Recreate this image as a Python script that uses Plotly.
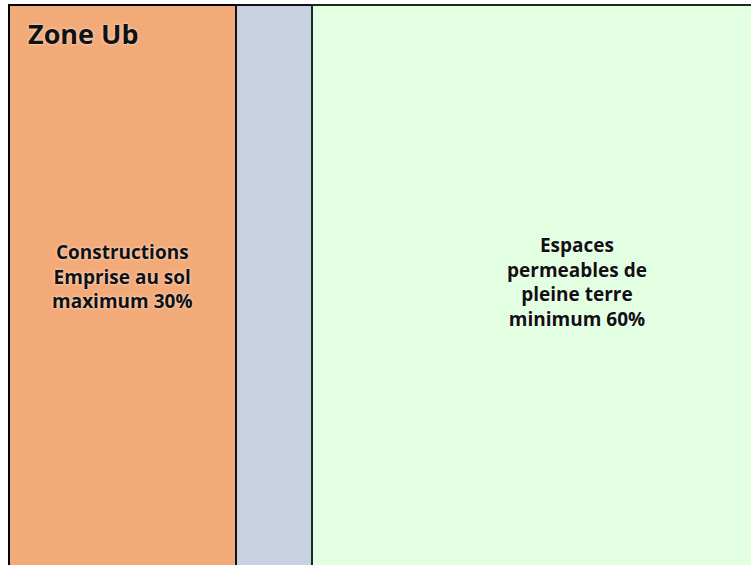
import plotly.graph_objects as go

zones = ["Constructions", "Voirie", "Espaces verts"]
shares = [30, 10, 60]
colors = ["#F3AA79", "#C8D1E0", "#E2FFE2"]
edge_colors = ["#000000", "#111111", "#1f2a1f"]
labels = [
    "Constructions<br>Emprise au sol<br>maximum 30%",
    "",
    "Espaces<br>permeables de<br>pleine terre<br>minimum 60%",
]
label_x = [15, None, 75]
label_y = [0.047, None, 0.038]
title_text = "Zone Ub"

fig = go.Figure()
for name, val, col, ec in zip(zones, shares, colors, edge_colors):
    fig.add_trace(go.Bar(
        y=[0], x=[val], orientation="h", name=name,
        marker=dict(color=col, line=dict(color=ec, width=2.5)),
        width=1, hoverinfo="skip", showlegend=False,
    ))

FONT = "Open Sans"
shadow = "0px 0px 3px rgba(255,255,255,0.8)"
for lab, lx, ly in zip(labels, label_x, label_y):
    if not lab:
        continue
    fig.add_annotation(x=lx, y=ly, xref="x", yref="y", text="<b>" + lab + "</b>",
                       showarrow=False, align="center",
                       font=dict(family=FONT, size=19, color="#111111", shadow=shadow))

fig.add_annotation(x=2.3, y=0.5083 - 13 / 600, xref="x", yref="y", text="<b>" + title_text + "</b>",
                   showarrow=False, xanchor="left", yanchor="top",
                   font=dict(family=FONT, size=27, color="#111111", shadow=shadow))

fig.update_layout(
    barmode="stack",
    width=751, height=565,
    margin=dict(l=0, r=0, t=0, b=0),
    paper_bgcolor="white", plot_bgcolor="white",
    xaxis=dict(range=[-1.19, 98.0], visible=False, fixedrange=True),
    yaxis=dict(range=[0.5083 - 565 / 600, 0.5083], visible=False, fixedrange=True),
    bargap=0,
)
fig.write_html("out.html", config={"displayModeBar": False},
               post_script="document.body.style.margin='0';document.body.style.overflow='hidden';")
